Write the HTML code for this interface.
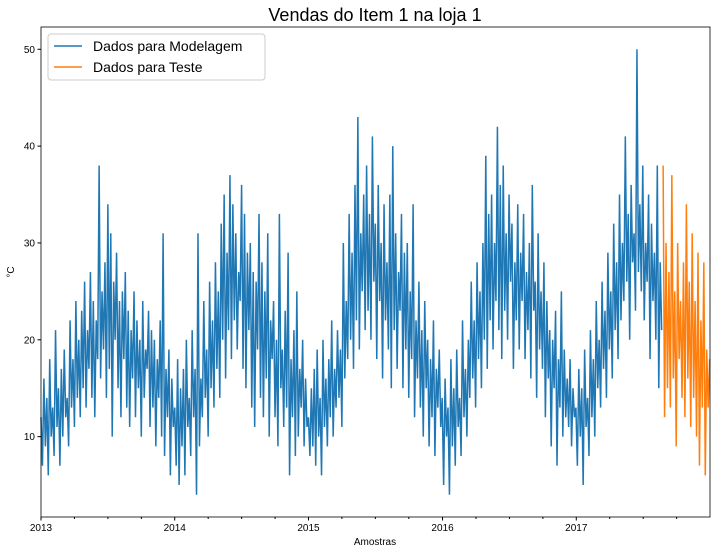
<!DOCTYPE html>
<html><head><meta charset="utf-8">
<style>
body{margin:0;background:#fff;font-family:"Liberation Sans","DejaVu Sans",sans-serif;}
</style></head>
<body>
<svg id="chart" width="717" height="554" xmlns="http://www.w3.org/2000/svg">
<text x="375" y="21" font-size="18" text-anchor="middle">Vendas do Item 1 na loja 1</text>
<g id="marks"></g>
<rect x="41" y="27" width="669" height="490" fill="none" stroke="#000" stroke-width="0.8"/>
<g id="axes" font-size="10"></g>
<text x="375" y="545" font-size="10" text-anchor="middle">Amostras</text>
<text transform="translate(14,272) rotate(-90)" font-size="10" text-anchor="middle">°C</text>
<g>
<rect x="48" y="34" width="217" height="46" rx="3" fill="#fff" fill-opacity="0.8" stroke="#ccc"/>
<line x1="54" y1="46" x2="82" y2="46" stroke="#1f77b4" stroke-width="1.5"/>
<text x="93" y="51" font-size="14">Dados para Modelagem</text>
<line x1="54" y1="67" x2="82" y2="67" stroke="#ff7f0e" stroke-width="1.5"/>
<text x="93" y="72" font-size="14">Dados para Teste</text>
</g>
</svg>
<script>
const trainValues=[12,7,16,9,14,6,18,10,13,8,21,11,15,7,17,10,19,12,14,9,22,13,18,11,24,14,20,12,23,15,26,13,21,17,27,14,24,12,22,18,38,16,25,19,28,14,34,17,31,10,26,20,29,15,24,12,25,18,27,13,23,11,21,16,25,12,22,15,20,10,24,14,19,17,23,11,21,13,20,9,18,14,22,10,31,8,17,12,19,6,16,11,
13,7,18,5,15,9,17,6,20,11,14,8,21,12,17,4,31,9,16,12,24,14,19,10,26,15,22,13,28,17,25,14,32,20,35,16,29,21,37,18,34,22,31,19,27,24,36,17,33,15,29,21,30,13,27,11,26,19,33,14,28,12,25,16,31,10,22,18,24,12,20,9,33,15,19,11,23,13,29,6,18,12,21,8,25,10,17,13,20,9,16,11,
12,8,15,9,17,7,19,10,14,6,20,11,16,9,18,12,22,10,17,13,21,14,19,11,30,16,24,18,33,20,29,17,36,22,43,19,31,25,35,21,38,23,33,20,41,26,32,18,36,24,30,16,34,22,28,19,35,15,40,21,31,17,27,23,33,15,29,19,30,14,25,18,34,12,22,16,26,13,21,10,24,15,20,9,18,12,22,8,17,13,19,11,
14,5,16,10,13,4,18,9,15,7,19,11,14,8,22,12,17,10,20,14,26,16,22,13,28,18,25,15,30,20,39,17,33,22,35,19,30,24,42,21,36,18,38,23,31,20,35,26,32,17,28,22,34,19,29,24,33,18,27,21,30,16,36,23,26,14,31,19,25,17,28,12,24,16,21,9,20,15,23,7,18,13,25,10,19,12,16,11,18,9,15,12,
13,7,17,10,15,5,19,11,14,8,21,12,18,10,24,15,20,13,26,17,23,14,29,19,25,16,32,21,28,18,35,22,30,24,41,26,33,20,36,28,31,23,50,27,34,25,38,22,30,26,35,18,32,24,29,20,38,15,28,21];
const testValues=[38,12,30,15,27,13,37,16,25,9,30,18,24,14,28,12,34,16,26,11,31,14,24,10,29,7,22,13,28,6,19,13,18];
const yTicks=[10,20,30,40,50];
const xTickLabels=["2013","2014","2015","2016","2017"];
const NS="http://www.w3.org/2000/svg";
const X0=41,X1=710,Y0=517,Y1=27,YMIN=1.7,YMAX=52.3,TOTAL_DAYS=1826;
const N=trainValues.length+testValues.length;
const step=(TOTAL_DAYS-1)/(N-1);
const xDay=d=>X0+d/TOTAL_DAYS*(X1-X0);
const xIdx=i=>xDay(i*step);
const y=v=>Y0-(v-YMIN)/(YMAX-YMIN)*(Y0-Y1);
const marks=document.getElementById('marks'),axes=document.getElementById('axes');
function line(vals,off,color,name){
  const p=document.createElementNS(NS,'polyline');
  p.setAttribute('points',vals.map((v,i)=>xIdx(i+off).toFixed(2)+','+y(v).toFixed(2)).join(' '));
  p.setAttribute('fill','none');p.setAttribute('stroke',color);p.setAttribute('stroke-width','1.5');
  
  
  marks.appendChild(p);
}
line(trainValues,0,'#1f77b4','train-series-line');
line(testValues,trainValues.length,'#ff7f0e','test-series-line');
yTicks.forEach(v=>{
  const t=document.createElementNS(NS,'line');
  t.setAttribute('x1',X0-3.5);t.setAttribute('x2',X0);t.setAttribute('y1',y(v));t.setAttribute('y2',y(v));t.setAttribute('stroke','#000');
  axes.appendChild(t);
  const l=document.createElementNS(NS,'text');
  l.setAttribute('x',X0-6);l.setAttribute('y',y(v)+3.5);l.setAttribute('text-anchor','end');l.textContent=v;
  
  
  axes.appendChild(l);
});
const yearStarts=[0,365,730,1096,1461];
xTickLabels.forEach((lab,i)=>{
  const x=xDay(yearStarts[i]);
  const t=document.createElementNS(NS,'line');
  t.setAttribute('x1',x);t.setAttribute('x2',x);t.setAttribute('y1',Y0);t.setAttribute('y2',Y0+3.5);t.setAttribute('stroke','#000');
  axes.appendChild(t);
  const l=document.createElementNS(NS,'text');
  l.setAttribute('x',x);l.setAttribute('y',Y0+14);l.setAttribute('text-anchor','middle');l.textContent=lab;
  
  
  axes.appendChild(l);
  for(let q=1;q<4;q++){
    const m=document.createElementNS(NS,'line');const mx=xDay(yearStarts[i]+q*91.3);
    m.setAttribute('x1',mx);m.setAttribute('x2',mx);m.setAttribute('y1',Y0);m.setAttribute('y2',Y0+2);m.setAttribute('stroke','#000');
    axes.appendChild(m);
  }
});
</script>
</body></html>
